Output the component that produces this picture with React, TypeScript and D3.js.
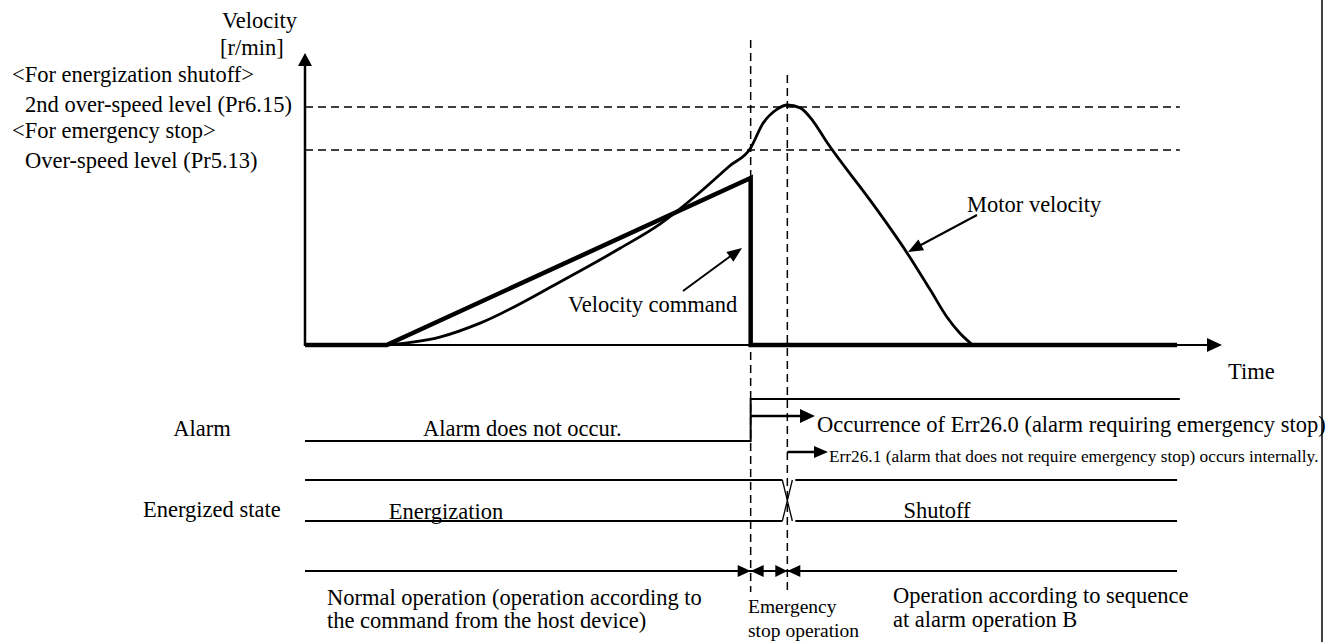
import React from 'react';
import * as d3 from 'd3';

// time in arbitrary units, velocity in % of the axis height
const commandTime = [0, 8.9, 48.6, 48.6, 95.1];
const commandVel = [0, 0, 57.2, 0, 0];

const motorTime = [8.9, 14.7, 19.1, 27.8, 34.4, 38.7, 43.1, 46.3, 48.6, 49.9, 51.5, 52.6, 54.0, 55.4, 56.9, 61.6, 65.6, 68.2, 70.0, 71.4, 72.8];
const motorVel = [0, 2.7, 7.5, 21.6, 33.2, 41.4, 52.4, 61.3, 67.5, 75.7, 80.8, 82.2, 81.2, 76.7, 69.5, 49.7, 31.8, 18.8, 9.6, 4.1, 0];

const levelHeads = ['<For energization shutoff>', '<For emergency stop>'];
const levelNames = ['2nd over-speed level (Pr6.15)', 'Over-speed level (Pr5.13)'];
const levelValues = [81.5, 66.8];

// event times
const tStop = 48.6;      // emergency stop starts
const tShutoff = 52.6;   // energization shutoff
const tEnd = 95.1;

const FONT = '"Liberation Serif", "Times New Roman", serif';

const tri = (tx: number, ty: number, dx: number, dy: number, len: number, half: number) => {
  // triangle with tip at (tx,ty) pointing in direction (dx,dy)
  const n = Math.hypot(dx, dy);
  const ux = dx / n, uy = dy / n;
  const bx = tx - ux * len, by = ty - uy * len;
  return `M${tx},${ty}L${bx - uy * half},${by + ux * half}L${bx + uy * half},${by - ux * half}Z`;
};

export default function App() {
  const x = d3.scaleLinear().domain([0, 100]).range([305, 1222]);
  const y = d3.scaleLinear().domain([0, 100]).range([345, 53]);

  const cmdLine = d3.line<number>().x((_, i) => x(commandTime[i])).y((_, i) => y(commandVel[i]));
  const motorLine = d3.line<number>()
    .x((_, i) => x(motorTime[i]))
    .y((_, i) => y(motorVel[i]))
    .curve(d3.curveMonotoneX);

  const alarmLow = 441, alarmHigh = 399;
  const enTop = 480, enBot = 521;
  const phaseY = 571;

  const xs = x(tStop), xo = x(tShutoff), xe = x(tEnd);
  const lineGap = 28;

  return (
    <svg width={1341} height={642} style={{ position: 'absolute', left: 0, top: 0, background: '#fff' }}
      fontFamily={FONT} fontSize={22.5} fill="#000">
      <rect width={1341} height={642} fill="#fff" />

      {/* over-speed levels */}
      {levelValues.map((v, i) => (
        <line key={i} x1={x(0)} x2={x(95.4)} y1={y(v)} y2={y(v)} stroke="#000" strokeWidth={1.5} strokeDasharray="8,5" />
      ))}
      {levelValues.map((v, i) => {
        const base = i === 0 ? y(v) + 5 : y(v) + 18;
        return (
          <g key={'l' + i}>
            <text x={12} y={base - (i === 0 ? 30 : lineGap + 2)}>{levelHeads[i]}</text>
            <text x={25} y={base}>{levelNames[i]}</text>
          </g>
        );
      })}

      {/* event dashed lines */}
      <line x1={xs} x2={xs} y1={40} y2={592} stroke="#000" strokeWidth={1.5} strokeDasharray="8,5" />
      <line x1={xo} x2={xo} y1={75} y2={590} stroke="#000" strokeWidth={1.5} strokeDasharray="8,5" />

      {/* axes */}
      <line x1={x(0)} x2={x(0)} y1={y(0) + 1} y2={y(100) + 12} stroke="#000" strokeWidth={2.5} />
      <path d={tri(x(0), y(100), 0, -1, 13, 7)} fill="#000" />
      <line x1={x(0)} x2={x(100) - 14} y1={y(0)} y2={y(0)} stroke="#000" strokeWidth={2} />
      <path d={tri(x(100), y(0), 1, 0, 15, 7)} fill="#000" />
      <text x={222} y={28}>Velocity</text>
      <text x={220} y={55}>[r/min]</text>
      <text x={1228} y={379}>Time</text>

      {/* curves */}
      <path d={motorLine(motorTime) || ''} fill="none" stroke="#000" strokeWidth={2.8} strokeLinejoin="round" />
      <path d={cmdLine(commandTime) || ''} fill="none" stroke="#000" strokeWidth={4.5} strokeLinejoin="miter" />

      {/* callouts */}
      <text x={568} y={312}>Velocity command</text>
      <line x1={683} y1={291} x2={732} y2={255} stroke="#000" strokeWidth={2} />
      <path d={tri(742, 248, 59, -43, 15, 6)} fill="#000" />
      <text x={967} y={212}>Motor velocity</text>
      <line x1={977} y1={215} x2={919} y2={246} stroke="#000" strokeWidth={2} />
      <path d={tri(908, 252, -69, 37, 15, 6)} fill="#000" />

      {/* alarm row */}
      <text x={202} y={436} textAnchor="middle">Alarm</text>
      <text x={423} y={436}>Alarm does not occur.</text>
      <path d={`M${x(0)},${alarmLow}H${xs}V${alarmHigh}H${x(95.4)}`} fill="none" stroke="#000" strokeWidth={2} />
      <line x1={xs} x2={802} y1={416} y2={416} stroke="#000" strokeWidth={2.5} />
      <path d={tri(815, 416, 1, 0, 15, 7)} fill="#000" />
      <text x={817} y={432}>Occurrence of Err26.0 (alarm requiring emergency stop)</text>
      <line x1={xo} x2={815} y1={452} y2={452} stroke="#000" strokeWidth={2.5} />
      <path d={tri(828, 452, 1, 0, 14, 6)} fill="#000" />
      <text x={829} y={462} fontSize={17.3}>Err26.1 (alarm that does not require emergency stop) occurs internally.</text>

      {/* energized state row */}
      <text x={143} y={517}>Energized state</text>
      <line x1={x(0)} x2={xo - 5} y1={enTop} y2={enTop} stroke="#000" strokeWidth={2} />
      <line x1={x(0)} x2={xo - 5} y1={enBot} y2={enBot} stroke="#000" strokeWidth={2} />
      <line x1={xo + 8} x2={xe} y1={enTop} y2={enTop} stroke="#000" strokeWidth={2} />
      <line x1={xo + 8} x2={xe} y1={enBot} y2={enBot} stroke="#000" strokeWidth={2} />
      <line x1={xo - 5} x2={xo + 5} y1={enTop} y2={enBot} stroke="#000" strokeWidth={1.3} />
      <line x1={xo - 5} x2={xo + 5} y1={enBot} y2={enTop} stroke="#000" strokeWidth={1.3} />
      <text x={446} y={519} textAnchor="middle">Energization</text>
      <text x={937} y={518} textAnchor="middle">Shutoff</text>

      {/* operation phases */}
      <line x1={x(0)} x2={xe} y1={phaseY} y2={phaseY} stroke="#000" strokeWidth={2} />
      <path d={tri(xs, phaseY, 1, 0, 13, 6)} fill="#000" />
      <path d={tri(xs, phaseY, -1, 0, 13, 6)} fill="#000" />
      <path d={tri(xo, phaseY, 1, 0, 12, 6)} fill="#000" />
      <path d={tri(xo, phaseY, -1, 0, 13, 6)} fill="#000" />
      <text x={327} y={605}>Normal operation (operation according to</text>
      <text x={327} y={628}>the command from the host device)</text>
      <text x={748} y={613} fontSize={19.5}>Emergency</text>
      <text x={748} y={637} fontSize={19.5}>stop operation</text>
      <text x={893} y={603}>Operation according to sequence</text>
      <text x={893} y={627}>at alarm operation B</text>

      {/* right border */}
      <line x1={1322} x2={1322} y1={0} y2={642} stroke="#000" strokeWidth={1.5} />
    </svg>
  );
}
